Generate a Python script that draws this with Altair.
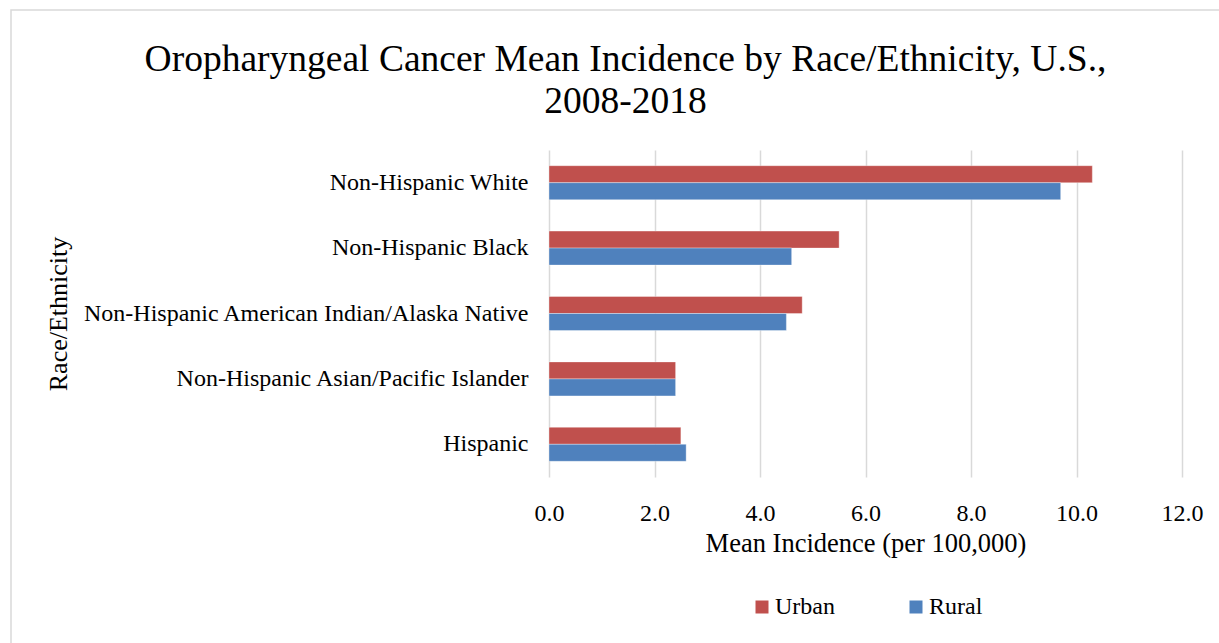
import altair as alt
import pandas as pd

categories = [
    "Non-Hispanic White",
    "Non-Hispanic Black",
    "Non-Hispanic American Indian/Alaska Native",
    "Non-Hispanic Asian/Pacific Islander",
    "Hispanic",
]
urban = [10.3, 5.5, 4.8, 2.4, 2.5]
rural = [9.7, 4.6, 4.5, 2.4, 2.6]
series = ["Urban", "Rural"]
series_colors = ["#C0504D", "#4F81BD"]
x_ticks = [0, 2, 4, 6, 8, 10, 12]

rows = []
for c, u, r in zip(categories, urban, rural):
    rows.append({"Race": c, "Area": "Urban", "Value": u})
    rows.append({"Race": c, "Area": "Rural", "Value": r})
df = pd.DataFrame(rows)

FONT = "Liberation Serif"
W, H = 633, 327
L, T = 549, 150

bars = alt.Chart(df).mark_bar(stroke="white", strokeWidth=1, strokeOpacity=0.35).encode(
    y=alt.Y(
        "Race:N",
        sort=categories,
        scale=alt.Scale(paddingInner=0.48, paddingOuter=0.24),
        axis=alt.Axis(
            title="Race/Ethnicity",
            labelFont=FONT, labelFontSize=24, labelColor="#000000",
            labelPadding=21, labelLimit=700, ticks=False, domain=False,
            titleFont=FONT, titleFontSize=26, titleFontWeight="normal",
            titleColor="#000000", titleX=-491, titleY=H / 2,
            titleBaseline="middle", titleAngle=270,
        ),
    ),
    x=alt.X(
        "Value:Q",
        scale=alt.Scale(domain=[0, 12], nice=False),
        axis=alt.Axis(
            values=x_ticks, format=".1f", grid=True, gridColor="#D9D9D9",
            gridWidth=1.5, domain=False, ticks=False, labelFlush=False,
            labelFont=FONT, labelFontSize=24, labelColor="#000000",
            labelPadding=24,
            title="Mean Incidence (per 100,000)",
            titleFont=FONT, titleFontSize=26.5, titleFontWeight="normal",
            titleColor="#000000", titlePadding=5,
        ),
    ),
    yOffset=alt.YOffset("Area:N", sort=series),
    color=alt.Color(
        "Area:N",
        scale=alt.Scale(domain=series, range=series_colors),
        legend=alt.Legend(
            title=None, orient="none", legendX=201, legendY=445,
            direction="horizontal", symbolType="square", symbolSize=169,
            symbolStrokeWidth=0, labelFont=FONT, labelFontSize=24,
            labelColor="#000000", columnPadding=69, labelOffset=1,
        ),
    ),
)

border = alt.Chart(pd.DataFrame({"a": [0]})).mark_rect(
    fill=None, stroke="#D9D9D9", strokeWidth=1.5
).encode(
    x=alt.value(11 - L), x2=alt.value(1260 - L),
    y=alt.value(10 - T), y2=alt.value(700 - T),
)

chart = alt.layer(border, bars).properties(
    width=W, height=H,
    title=alt.TitleParams(
        text=["Oropharyngeal Cancer Mean Incidence by Race/Ethnicity, U.S.,", "2008-2018"],
        font=FONT, fontSize=37.5, fontWeight="normal", color="#000000",
        anchor="middle", frame="group", dx=-240, offset=-111, lineHeight=42,
    ),
    autosize=alt.AutoSizeParams(type="none"),
    padding={"left": L, "top": T, "right": 1219 - L - W, "bottom": 643 - T - H},
    background="white",
).configure_view(stroke=None)

chart.save("out.html", embed_options={"renderer": "svg", "actions": False})
